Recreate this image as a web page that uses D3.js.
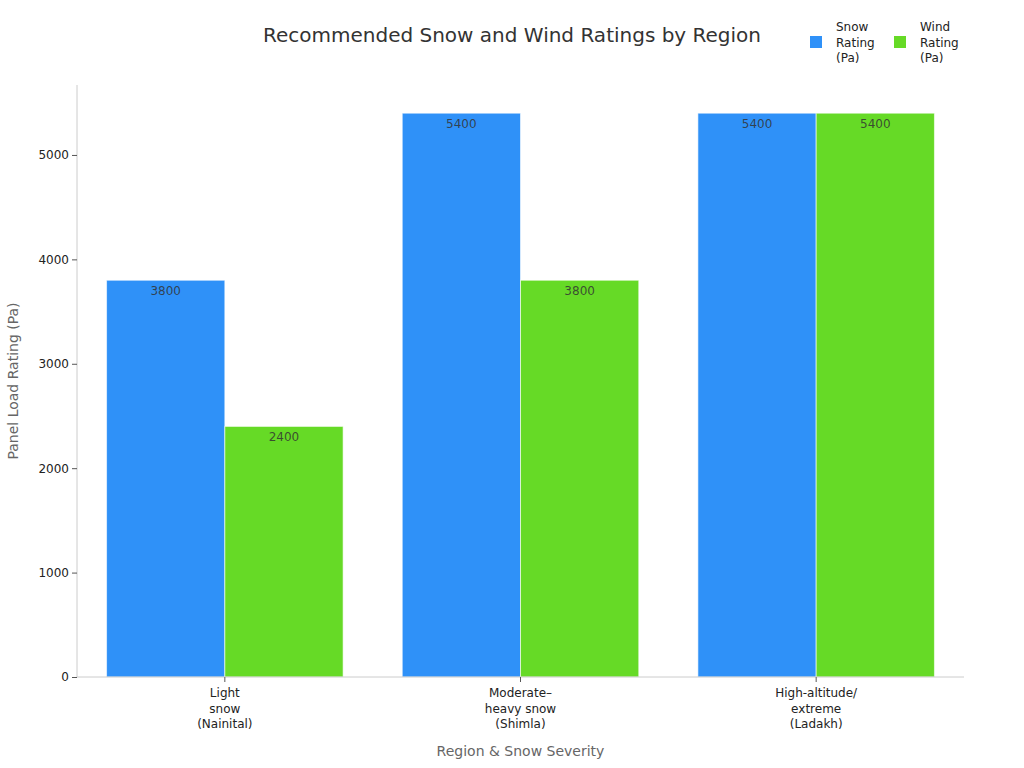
<!DOCTYPE html>
<html>
<head>
<meta charset="utf-8">
<script src="https://cdn.jsdelivr.net/npm/d3@7"></script>
<style>
  html, body { margin: 0; padding: 0; background: #fff; }
  svg { display: block; font-family: "DejaVu Sans", sans-serif; }
</style>
</head>
<body>
<div id="chart"></div>
<script>
// Chart data
var CATEGORIES = [
  ["Light", "snow", "(Nainital)"],
  ["Moderate–", "heavy snow", "(Shimla)"],
  ["High-altitude/", "extreme", "(Ladakh)"]
];
var SERIES = ["Snow Rating (Pa)", "Wind Rating (Pa)"];
var SNOW_VALUES = [3800, 5400, 5400];
var WIND_VALUES = [2400, 3800, 5400];
var Y_TICKS = [0, 1000, 2000, 3000, 4000, 5000];

var COLORS = ["#2f91f8", "#66da26"];

var width = 1024, height = 768;
var margin = { top: 85, right: 60, bottom: 91, left: 77 };
var innerW = width - margin.left - margin.right;
var innerH = height - margin.top - margin.bottom;

var svg = d3.select("#chart").append("svg")
  .attr("width", width)
  .attr("height", height);

var g = svg.append("g").attr("transform", "translate(" + margin.left + "," + margin.top + ")");

var x0 = d3.scaleBand()
  .domain(d3.range(CATEGORIES.length))
  .range([0, innerW])
  .paddingInner(0.2)
  .paddingOuter(0.1);

var x1 = d3.scaleBand()
  .domain(d3.range(SERIES.length))
  .range([0, x0.bandwidth()]);

var y = d3.scaleLinear()
  .domain([0, d3.max(SNOW_VALUES.concat(WIND_VALUES)) * 1.05])
  .range([innerH, 0]);

var seriesValues = [SNOW_VALUES, WIND_VALUES];

// Bars
var groups = g.selectAll(".cat")
  .data(d3.range(CATEGORIES.length))
  .enter().append("g")
  .attr("class", "cat")
  .attr("transform", function(i) { return "translate(" + x0(i) + ",0)"; });

groups.selectAll("rect")
  .data(function(i) { return seriesValues.map(function(s, k) { return { k: k, v: s[i] }; }); })
  .enter().append("rect")
  .attr("x", function(d) { return x1(d.k); })
  .attr("y", function(d) { return y(d.v); })
  .attr("width", x1.bandwidth())
  .attr("height", function(d) { return innerH - y(d.v); })
  .attr("fill", function(d) { return COLORS[d.k]; })
  .attr("stroke", "#ffffff")
  .attr("stroke-opacity", 0.6)
  .attr("stroke-width", 1);

groups.selectAll("text.val")
  .data(function(i) { return seriesValues.map(function(s, k) { return { k: k, v: s[i] }; }); })
  .enter().append("text")
  .attr("class", "val")
  .attr("x", function(d) { return x1(d.k) + x1.bandwidth() / 2; })
  .attr("y", function(d) { return y(d.v) + 15; })
  .attr("text-anchor", "middle")
  .attr("font-size", "12px")
  .attr("fill", "#333")
  .attr("fill-opacity", 0.85)
  .text(function(d) { return d.v; });

// Y axis
var yAxis = g.append("g")
  .call(d3.axisLeft(y).tickValues(Y_TICKS).tickFormat(d3.format("d")).tickSize(5).tickPadding(3));
yAxis.select(".domain").attr("stroke", "#cccccc").attr("d", "M0," + innerH + "V0");
yAxis.selectAll(".tick line").attr("stroke", "#555");
yAxis.selectAll(".tick text").attr("font-size", "12px").attr("fill", "#222").attr("font-family", "DejaVu Sans, sans-serif");

// X axis
var xAxis = g.append("g")
  .attr("transform", "translate(0," + innerH + ")")
  .call(d3.axisBottom(x0).tickSize(5).tickFormat(""));
xAxis.select(".domain").attr("stroke", "#cccccc").attr("d", "M0,0H" + innerW);
xAxis.selectAll(".tick line").attr("stroke", "#555");
xAxis.selectAll(".tick").each(function(i) {
  var t = d3.select(this).append("text")
    .attr("fill", "#222")
    .attr("font-size", "12px")
    .attr("text-anchor", "middle")
    .attr("font-family", "DejaVu Sans, sans-serif");
  CATEGORIES[i].forEach(function(line, j) {
    t.append("tspan").attr("x", 0).attr("y", 20 + j * 15.5).text(line);
  });
});

// Axis titles
svg.append("text")
  .attr("x", margin.left + innerW / 2)
  .attr("y", 756)
  .attr("text-anchor", "middle")
  .attr("font-size", "14px")
  .attr("fill", "#666")
  .text("Region & Snow Severity");

svg.append("text")
  .attr("transform", "translate(18," + (margin.top + innerH / 2) + ") rotate(-90)")
  .attr("text-anchor", "middle")
  .attr("font-size", "14px")
  .attr("fill", "#666")
  .text("Panel Load Rating (Pa)");

// Title
svg.append("text")
  .attr("x", 512)
  .attr("y", 42)
  .attr("text-anchor", "middle")
  .attr("font-size", "20px")
  .attr("fill", "#333")
  .text("Recommended Snow and Wind Ratings by Region");

// Legend
var legend = svg.append("g").attr("transform", "translate(810,0)");
SERIES.forEach(function(name, k) {
  var lg = legend.append("g").attr("transform", "translate(" + (k * 84) + ",0)");
  lg.append("rect")
    .attr("x", 0).attr("y", 36)
    .attr("width", 12).attr("height", 12)
    .attr("fill", COLORS[k]);
  var t = lg.append("text")
    .attr("font-size", "12px")
    .attr("fill", "#222");
  var parts = name.split(" ");
  parts.forEach(function(p, j) {
    t.append("tspan").attr("x", 26).attr("y", 31 + j * 15.5).text(p);
  });
});
</script>
</body>
</html>
